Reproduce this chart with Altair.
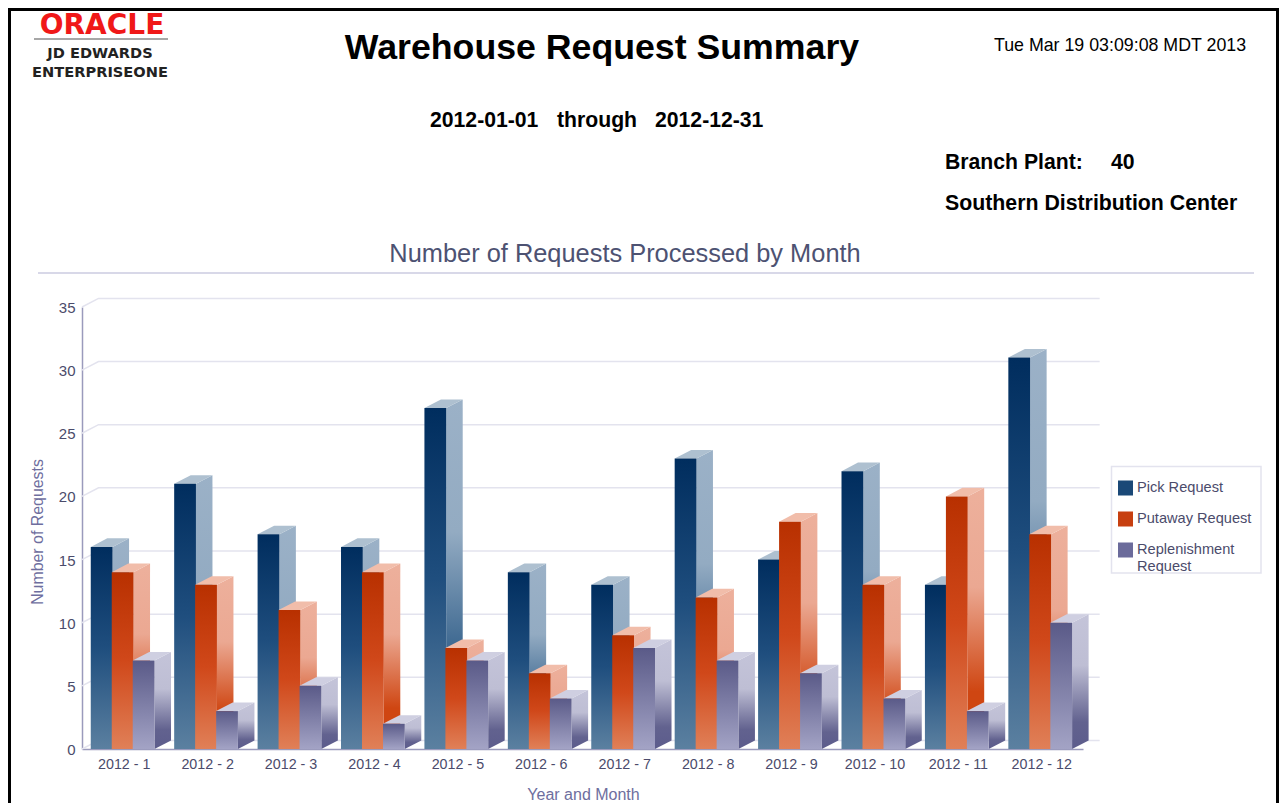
import altair as alt
import pandas as pd

MONTHS = list(range(1, 13))
PICK = [16, 21, 17, 16, 27, 14, 13, 23, 15, 22, 13, 31]
PUTAWAY = [14, 13, 11, 14, 8, 6, 9, 12, 18, 13, 20, 17]
REPLEN = [7, 3, 5, 2, 7, 4, 8, 7, 6, 4, 3, 10]
SERIES = ["Pick Request", "Putaway Request", "Replenishment Request"]
YTICKS = [0, 5, 10, 15, 20, 25, 30, 35]

FONT = "Liberation Sans"
OX, OY = 82, 307  # plot origin on the page
W, H = 1001, 442
DX, DY = 0.198, 0.68  # 3-D depth in axis units
BAR = 0.261
STEP = 0.2516
START = 0.105


def grad(*stops):
    return alt.LinearGradient(
        gradient="linear", x1=0, y1=0, x2=0, y2=1,
        stops=[alt.GradientStop(offset=o, color=c) for o, c in stops],
    )


STYLE = [
    dict(front=grad((0, "#002D5E"), (0.5, "#1F4E7E"), (1, "#5B80A0")),
         side=grad((0, "#9BB1C7"), (0.38, "#93ABC2"), (0.78, "#2B5A86"), (1, "#2B5A86")),
         top="#AEC0D0", legend="#1A4877"),
    dict(front=grad((0, "#B83000"), (0.5, "#D0481A"), (1, "#E08058")),
         side=grad((0, "#EDB09C"), (0.38, "#EBA892"), (0.78, "#CF4612"), (1, "#CF4612")),
         top="#F1BDAA", legend="#C73F10"),
    dict(front=grad((0, "#5A5A88"), (1, "#A3A3C5")),
         side=grad((0, "#C4C4D9"), (0.38, "#BEBED4"), (0.8, "#62628F"), (1, "#5C5C8C")),
         top="#CFCFE1", legend="#6B6B9B"),
]

xs = alt.Scale(domain=[0, 12], nice=False, zero=False)
ys = alt.Scale(domain=[0, 35], nice=False, zero=False)

XAXIS = alt.Axis(
    values=[m - 0.5 for m in MONTHS],
    labelExpr="'2012 - ' + ceil(datum.value)",
    ticks=False, grid=False, domainColor="#9A9ABC", domainWidth=1.5,
    labelColor="#4B4B6B", labelFontSize=14.3, labelFont=FONT, labelPadding=8, labelFlush=False,
    title="Year and Month", titleColor="#6E6E9E", titleFontSize=16, titleFont=FONT,
    titleFontWeight="normal", titleX=501, titleY=45, titleBaseline="middle")
YAXIS = alt.Axis(
    values=YTICKS, ticks=False, grid=False, domainColor="#9A9ABC", domainWidth=1.5,
    labelColor="#4B4B6B", labelFontSize=15, labelFont=FONT, labelPadding=7, labelOffset=0.5,
    title="Number of Requests", titleColor="#6E6E9E", titleFontSize=15.9, titleFont=FONT,
    titleFontWeight="normal", titleX=-45, titleY=224.5, titleBaseline="middle")


def X(field="x"):
    return alt.X(f"{field}:Q", scale=xs, axis=XAXIS)


def Y(field="y"):
    return alt.Y(f"{field}:Q", scale=ys, axis=YAXIS)


layers = []

# Back wall and floor grid
grid_rows = []
for v in YTICKS:
    grid_rows += [
        dict(v=v, x=0, y=v),
        dict(v=v, x=DX, y=v + DY),
        dict(v=v, x=12.2, y=v + DY),
    ]
layers.append(
    alt.Chart(pd.DataFrame(grid_rows)).mark_line(color="#E3E3EE", strokeWidth=1.5, clip=False).encode(
        x=X(), y=Y(), detail="v:N",
    )
)

# 3-D bars: back to front, one series after the other
for k, (name, vals) in enumerate(zip(SERIES, (PICK, PUTAWAY, REPLEN))):
    side, top, front = [], [], []
    for m, v in zip(MONTHS, vals):
        x0 = m - 1 + START + k * STEP
        x1 = x0 + BAR
        front.append(dict(m=m, x=x0, x2=x1, y=v, y2=0))
        side += [dict(m=m, x=x1, y=v, y2=0), dict(m=m, x=x1 + DX, y=v + DY, y2=DY)]
        top += [
            dict(m=m, x=x0, y=v, y2=v),
            dict(m=m, x=x0 + DX, y=v + DY, y2=v),
            dict(m=m, x=x1, y=v + DY, y2=v),
            dict(m=m, x=x1 + DX, y=v + DY, y2=v + DY),
        ]
    st = STYLE[k]
    layers.append(alt.Chart(pd.DataFrame(side)).mark_area(color=st["side"], clip=False, line=False).encode(
        x=X(), y=Y(), y2="y2:Q", detail="m:N"))
    layers.append(alt.Chart(pd.DataFrame(top)).mark_area(color=st["top"], clip=False).encode(
        x=X(), y=Y(), y2="y2:Q", detail="m:N"))
    layers.append(alt.Chart(pd.DataFrame(front)).mark_rect(color=st["front"], clip=False).encode(
        x=X(), x2="x2:Q", y=Y(), y2="y2:Q"))

# Legend frame and legend
layers.append(
    alt.Chart(pd.DataFrame({"a": [0]})).mark_rect(fill="white", stroke="#E3E3EE", strokeWidth=1.5).encode(
        x=alt.value(1111.5 - OX), x2=alt.value(1261 - OX), y=alt.value(466.5 - OY), y2=alt.value(573 - OY))
)
layers.append(
    alt.Chart(pd.DataFrame({"s": SERIES, "x": [0, 0, 0], "y": [0, 0, 0]})).mark_square(size=0).encode(
        x=X(), y=Y(),
        color=alt.Color("s:N", sort=SERIES, scale=alt.Scale(domain=SERIES, range=[s["legend"] for s in STYLE]),
                        legend=alt.Legend(
                            orient="none", legendX=1118 - OX, legendY=480 - OY, title=None,
                            symbolType="square", symbolSize=225, symbolOpacity=1, symbolStrokeWidth=0,
                            labelFont=FONT, labelFontSize=14.6, labelColor="#4B4B6B", labelOffset=4,
                            rowPadding=15, padding=0, clipHeight=16,
                            labelExpr="datum.label == 'Replenishment Request' ? ['Replenishment', 'Request'] : datum.label",
                            labelLimit=130)),
    )
)


def text(s, px, py, size, color="#000000", bold=False, align="left", font=FONT, angle=0):
    return alt.Chart(pd.DataFrame({"t": [s]})).mark_text(
        fontSize=size, font=font, color=color, align=align, baseline="middle",
        fontWeight="bold" if bold else "normal", angle=angle,
    ).encode(text="t:N", x=alt.value(px - OX), y=alt.value(py - OY))


def rule(x1, x2, y1, y2, color, width):
    return alt.Chart(pd.DataFrame({"a": [0]})).mark_rule(color=color, strokeWidth=width).encode(
        x=alt.value(x1 - OX), x2=alt.value(x2 - OX), y=alt.value(y1 - OY), y2=alt.value(y2 - OY))


layers += [
    text("Warehouse Request Summary", 602, 48, 35.7, bold=True, align="center"),
    text("Tue Mar 19 03:09:08 MDT 2013", 994, 46, 17.8),
    text("2012-01-01", 430, 121, 21.2, bold=True),
    text("through", 557, 121, 21.2, bold=True),
    text("2012-12-31", 655, 121, 21.2, bold=True),
    text("Branch Plant:", 945, 163, 21.2, bold=True),
    text("40", 1111, 163, 21.2, bold=True),
    text("Southern Distribution Center", 945, 204, 21.3, bold=True),
    text("Number of Requests Processed by Month", 625, 253.5, 25.4, color="#4D5272", align="center"),
    rule(38, 1254, 273, 273, "#D8D8E8", 2),
    text("ORACLE", 102, 26, 28, color="#F01818", align="center", font="DejaVu Sans", bold=True),
    rule(34, 168, 39, 39, "#8A8A8A", 1.5),
    text("JD EDWARDS", 100, 54, 14.6, color="#222222", bold=True, align="center", font="DejaVu Sans"),
    text("ENTERPRISEONE", 100, 73, 14.6, color="#222222", bold=True, align="center", font="DejaVu Sans"),
    rule(8, 1279, 9.5, 9.5, "#000000", 3),
    rule(9.5, 9.5, 8, 803, "#000000", 3),
    rule(1277.5, 1277.5, 8, 803, "#000000", 3),
]

TOTAL_H = 795
chart = alt.layer(*layers).resolve_scale(x="shared", y="shared").properties(
    width=W, height=H,
    padding={"left": OX - 8, "top": OY - 8, "right": 1271 - (OX - 8) - W, "bottom": TOTAL_H - (OY - 8) - H},
    autosize=alt.AutoSizeParams(type="none"),
    background="white",
).configure_view(stroke=None)

chart.save("out.html", embed_options={"renderer": "svg", "actions": False})
